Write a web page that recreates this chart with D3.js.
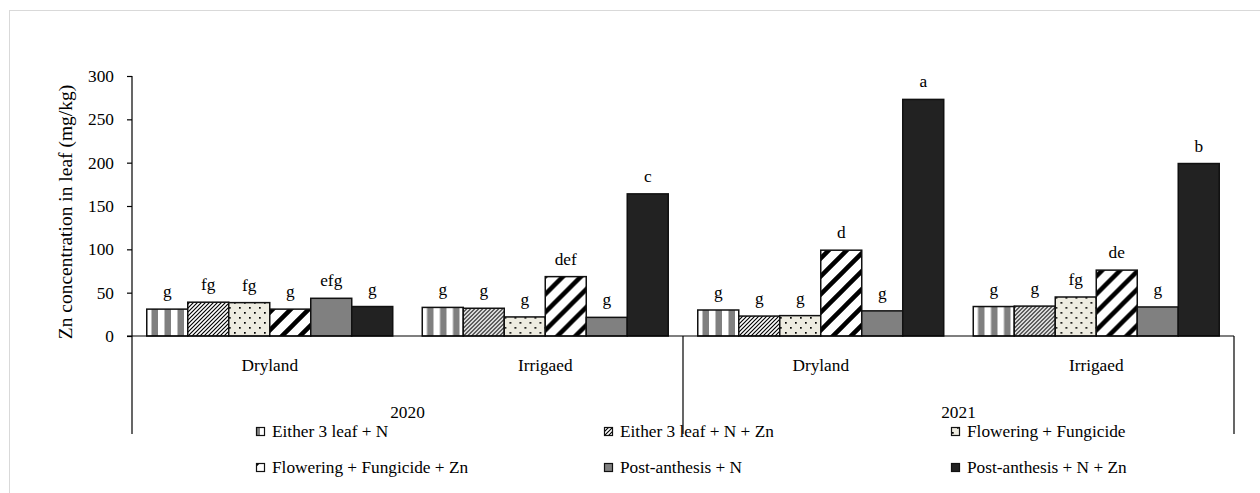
<!DOCTYPE html>
<html>
<head>
<meta charset="utf-8">
<script src="https://cdn.jsdelivr.net/npm/d3@7/dist/d3.min.js"></script>
<style>
  html, body { margin: 0; padding: 0; background: #fff; }
  svg { display: block; }
  svg text { font-family: "Liberation Serif", "Times New Roman", "DejaVu Serif", serif; fill: #000; }
</style>
</head>
<body>
<svg id="chart" width="1260" height="493" font-family="Liberation Serif, serif"></svg>
<script>
// Zn concentration in leaf, grouped by year and water regime
const years = ["2020", "2021"];
const regimes = ["Dryland", "Irrigaed"];
const groups = ["2020 Dryland", "2020 Irrigaed", "2021 Dryland", "2021 Irrigaed"];
const treatments = [
  "Either 3 leaf + N",
  "Either 3 leaf + N + Zn",
  "Flowering + Fungicide",
  "Flowering + Fungicide + Zn",
  "Post-anthesis + N",
  "Post-anthesis + N + Zn"
];
// one array per group, in treatment order
const dry2020 = [31, 39, 38.5, 31, 43.5, 34];
const irr2020 = [33, 32, 22, 68.5, 21.5, 164];
const dry2021 = [30, 23, 23.5, 99, 29, 273];
const irr2021 = [34, 34.5, 45, 76, 33.5, 199];
const letters2020Dry = ["g", "fg", "fg", "g", "efg", "g"];
const letters2020Irr = ["g", "g", "g", "def", "g", "c"];
const letters2021Dry = ["g", "g", "g", "d", "g", "a"];
const letters2021Irr = ["g", "g", "fg", "de", "g", "b"];
const yTicks = [0, 50, 100, 150, 200, 250, 300];
const yTitle = "Zn concentration in leaf (mg/kg)";

const values = [dry2020, irr2020, dry2021, irr2021];
const letters = [letters2020Dry, letters2020Irr, letters2021Dry, letters2021Irr];

const svg = d3.select("#chart");
const FONT = 17.3;
const SERIF = "Liberation Serif, Times New Roman, serif";

// outer chart frame
svg.append("rect")
  .attr("x", 9.5).attr("y", 10.5)
  .attr("width", 1300).attr("height", 600)
  .attr("fill", "#fff").attr("stroke", "#d9d9d9").attr("stroke-width", 1);

// fill patterns
const defs = svg.append("defs");
const pVert = defs.append("pattern").attr("id", "pVert")
  .attr("patternUnits", "userSpaceOnUse").attr("width", 13).attr("height", 13);
pVert.append("rect").attr("width", 13).attr("height", 13).attr("fill", "#fff");
pVert.append("rect").attr("x", 6.5).attr("width", 6.5).attr("height", 13).attr("fill", "#808080");

const pThin = defs.append("pattern").attr("id", "pThin")
  .attr("patternUnits", "userSpaceOnUse").attr("width", 4).attr("height", 4);
pThin.append("rect").attr("width", 4).attr("height", 4).attr("fill", "#fff");
pThin.append("path").attr("d", "M-1,1 l2,-2 M0,4 l4,-4 M3,5 l2,-2")
  .attr("stroke", "#000").attr("stroke-width", 1.15);

const pDots = defs.append("pattern").attr("id", "pDots")
  .attr("patternUnits", "userSpaceOnUse").attr("width", 10).attr("height", 10);
pDots.append("rect").attr("width", 10).attr("height", 10).attr("fill", "#eeece1");
pDots.append("rect").attr("x", 2).attr("y", 2).attr("width", 1.7).attr("height", 1.7).attr("fill", "#000");
pDots.append("rect").attr("x", 7).attr("y", 7).attr("width", 1.7).attr("height", 1.7).attr("fill", "#000");

const pWide = defs.append("pattern").attr("id", "pWide")
  .attr("patternUnits", "userSpaceOnUse").attr("width", 18).attr("height", 18);
pWide.append("rect").attr("width", 18).attr("height", 18).attr("fill", "#fff");
pWide.append("path").attr("d", "M-4.5,4.5 l9,-9 M0,18 l18,-18 M13.5,22.5 l9,-9")
  .attr("stroke", "#000").attr("stroke-width", 4.5);

const fills = ["url(#pVert)", "url(#pThin)", "url(#pDots)", "url(#pWide)", "#808080", "#222222"];

// scales
const plotLeft = 132, plotRight = 1234, plotBase = 336, plotTop = 76, axisBottom = 434;
const y = d3.scaleLinear().domain([0, 300]).range([plotBase, plotTop]);
const x0 = d3.scaleBand().domain(groups).range([plotLeft, plotRight]).padding(0);
const x1 = d3.scaleBand().domain(treatments).range([0, x0.bandwidth()])
  .paddingInner(0).paddingOuter(0.36);

// y axis
const yAxis = d3.axisLeft(y).tickValues(yTicks).tickSize(5).tickPadding(13);
const gy = svg.append("g").attr("transform", `translate(${plotLeft},0)`).call(yAxis);
gy.attr("font-family", SERIF);
gy.select(".domain").remove();
gy.selectAll(".tick line").attr("stroke", "#000").attr("stroke-width", 1.2);
gy.selectAll(".tick text").attr("font-size", FONT).attr("fill", "#000");

svg.append("text")
  .attr("transform", `translate(72,212) rotate(-90)`)
  .attr("text-anchor", "middle")
  .attr("font-size", 19.5)
  .text(yTitle);

// bars
const gBars = svg.append("g");
groups.forEach((g, gi) => {
  const gg = gBars.append("g").attr("transform", `translate(${x0(g)},0)`);
  gg.selectAll("rect").data(values[gi]).join("rect")
    .attr("x", (d, i) => x1(treatments[i]))
    .attr("y", d => y(d))
    .attr("width", x1.bandwidth())
    .attr("height", d => plotBase - y(d))
    .attr("fill", (d, i) => fills[i])
    .attr("stroke", "#111").attr("stroke-width", 1.5);
  gg.selectAll("text").data(values[gi]).join("text")
    .attr("x", (d, i) => x1(treatments[i]) + x1.bandwidth() / 2)
    .attr("y", d => y(d) - 12)
    .attr("text-anchor", "middle")
    .attr("font-size", FONT)
    .text((d, i) => letters[gi][i]);
});

// axis lines and category dividers
const axisG = svg.append("g").attr("stroke", "#000").attr("stroke-width", 1.2);
axisG.append("line").attr("x1", plotLeft).attr("x2", plotLeft).attr("y1", plotTop).attr("y2", axisBottom);
axisG.append("line").attr("x1", plotLeft - 5).attr("x2", plotRight).attr("y1", plotBase).attr("y2", plotBase);
[x0(groups[2]), plotRight].forEach(xv => {
  axisG.append("line").attr("x1", xv).attr("x2", xv).attr("y1", plotBase).attr("y2", axisBottom);
});

// category labels
groups.forEach((g, gi) => {
  svg.append("text")
    .attr("x", x0(g) + x0.bandwidth() / 2).attr("y", 371)
    .attr("text-anchor", "middle").attr("font-size", FONT)
    .text(regimes[gi % 2]);
});
years.forEach((yr, i) => {
  const xa = x0(groups[i * 2]), xb = x0(groups[i * 2 + 1]) + x0.bandwidth();
  svg.append("text")
    .attr("x", (xa + xb) / 2).attr("y", 418)
    .attr("text-anchor", "middle").attr("font-size", FONT)
    .text(yr);
});

// legend: three columns, two rows
const legX = [272, 620, 967];
const legY = [437, 473];
treatments.forEach((t, i) => {
  const cx = legX[i % 3], cy = legY[Math.floor(i / 3)];
  svg.append("rect")
    .attr("x", cx - 15.5).attr("y", cy - 9.5)
    .attr("width", 8).attr("height", 8)
    .attr("fill", fills[i]).attr("stroke", "#111").attr("stroke-width", 1.2);
  svg.append("text").attr("x", cx).attr("y", cy).attr("font-size", FONT).text(t);
});
</script>
</body>
</html>
